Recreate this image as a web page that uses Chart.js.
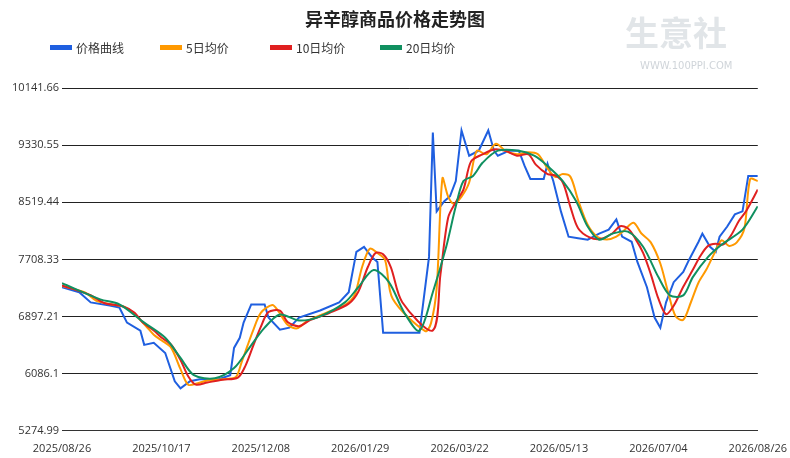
<!DOCTYPE html>
<html><head><meta charset="utf-8">
<script src="https://cdn.jsdelivr.net/npm/chart.js@4/dist/chart.umd.min.js"></script>
<style>html,body{margin:0;padding:0;background:#fff}#w{width:790px;height:458px}</style>
</head><body><div id="w"><canvas id="c"></canvas></div>
<script>
const title = "异辛醇商品价格走势图";
const seriesNames = ["价格曲线","5日均价","10日均价","20日均价"];
const seriesColors = ["#1f5fe0","#ff9900","#e02020","#109060"];
const xTickDays = [0,52,104,156,208,260,312,364];
const xTickLabels = ["2025/08/26","2025/10/17","2025/12/08","2026/01/29","2026/03/22","2026/05/13","2026/07/04","2026/08/26"];
const yTicks = [5274.99,6086.1,6897.21,7708.33,8519.44,9330.55,10141.66];
const yTickLabels = ["5274.99","6086.1","6897.21","7708.33","8519.44","9330.55","10141.66"];

const priceDays = [0,9,15,25,30,34,41,43,48,54,59,62,67,72,82,88,90,93,95,99,106,108,114,119,124,135,145,150,154,158,162,165,168,187,189,192,194,196,200,203,206,209,213,218,223,226,228,234,239,242,245,252,254,257,261,265,270,275,281,286,290,293,298,301,306,310,313,316,320,325,328,333,335,339,342,344,348,352,356,359,364];
const priceVals = [7313,7242,7098,7055,7026,6811,6696,6495,6524,6380,5978,5878,5978,6007,6007,6065,6452,6596,6811,7069,7069,6883,6711,6740,6883,6983,7098,7242,7816,7887,7744,7672,6667,6667,7098,7744,9510,8390,8534,8606,8821,9539,9180,9252,9539,9252,9180,9252,9252,9036,8850,8850,9065,8821,8390,8031,8010,7988,8074,8131,8275,8031,7959,7672,7313,6883,6739,7098,7385,7529,7701,7959,8074,7887,7816,8031,8175,8347,8390,8893,8893];

const ma5Days = [0,12,18,28,33,38,44,48,52,57,62,66,71,76,86,91,94,97,100,104,110,113,118,123,128,139,148,153,157,161,165,169,173,190,193,196,199,202,205,209,213,217,222,227,232,238,244,249,254,258,262,266,270,275,280,285,290,294,299,303,308,313,317,321,325,329,333,337,341,345,349,353,357,360,364];
const ma5Vals = [7330,7240,7120,7060,7030,6930,6760,6640,6560,6460,6150,5930,5950,5990,6010,6040,6250,6480,6700,6950,7060,6980,6780,6730,6830,6960,7060,7200,7600,7860,7800,7700,7150,6690,6800,7300,8860,8600,8500,8600,8800,9250,9200,9350,9250,9200,9230,9200,9000,8880,8920,8880,8550,8200,8030,7990,8030,8120,8230,8080,7950,7650,7250,6900,6850,7100,7380,7560,7780,7980,7900,7950,8150,8850,8820];

const ma10Days = [0,15,22,32,38,42,48,52,57,62,66,70,76,84,92,96,100,104,108,114,118,124,130,140,150,155,160,164,168,172,178,194,198,202,206,210,214,220,226,232,238,244,248,254,258,262,266,270,276,282,288,292,296,300,304,308,312,316,320,325,330,334,338,342,346,350,354,358,364];
const ma10Vals = [7340,7200,7090,7040,6950,6820,6700,6600,6500,6280,6050,5930,5960,6000,6030,6200,6480,6750,6960,6980,6820,6760,6850,6950,7080,7250,7600,7800,7780,7600,7100,6700,7500,8300,8520,8700,9100,9200,9270,9250,9180,9200,9050,8920,8900,8800,8450,8150,8020,8000,8080,8180,8150,8000,7800,7500,7150,6930,7050,7320,7560,7760,7900,7930,7920,8050,8250,8400,8700];

const ma20Days = [0,20,30,43,54,62,69,80,90,98,106,114,124,135,148,155,163,171,179,187,194,201,206,210,215,220,228,239,247,254,262,269,275,281,288,296,304,312,318,325,330,338,345,356,364];
const ma20Vals = [7371,7141,7070,6811,6596,6309,6065,6021,6165,6452,6739,6926,6840,6900,7098,7313,7557,7385,6955,6696,7242,7887,8462,8821,8893,9080,9252,9252,9180,9036,8821,8534,8175,7988,8074,8103,7887,7457,7198,7198,7457,7744,7916,8131,8462];

function pts(d,v){return d.map((x,i)=>({x:x,y:v[i]}));}
const decor = {
  id:'decor',
  beforeDraw(ch){
    const c=ch.ctx; c.save();
    c.font='bold 18px "Noto Sans CJK SC"'; c.fillStyle='#222'; c.textAlign='center'; c.textBaseline='middle';
    c.fillText(title,395,19);
    c.font='bold 34px "Noto Sans CJK SC"'; c.fillStyle='rgba(170,180,190,0.35)'; c.textAlign='left';
    c.fillText('生意社',625,33);
    c.font='10px "DejaVu Sans"'; c.fillStyle='rgba(160,170,180,0.5)';
    c.fillText('WWW.100PPI.COM',640,66);
    c.font='12px "Noto Sans CJK SC"'; c.fillStyle='#333';
    const lx=[50,160,270,380];
    seriesNames.forEach((n,i)=>{
      c.fillStyle=seriesColors[i]; c.fillRect(lx[i],45,22,5);
      c.fillStyle='#333'; c.fillText(n,lx[i]+26,48);
    });
    c.restore();
  }
};
const ds=[[priceDays,priceVals],[ma5Days,ma5Vals],[ma10Days,ma10Vals],[ma20Days,ma20Vals]].map((p,i)=>({
  label:seriesNames[i], data:pts(p[0],p[1]), borderColor:seriesColors[i], backgroundColor:seriesColors[i],
  borderWidth:2, pointRadius:0, tension:i===0?0:0.3, order:4-i
}));
new Chart(document.getElementById('c'),{
  type:'line', data:{datasets:ds},
  options:{responsive:true,maintainAspectRatio:false,animation:false,
    layout:{padding:{top:88,right:0,left:0,bottom:0}},
    plugins:{legend:{display:false},title:{display:false},tooltip:{enabled:false}},
    scales:{
      x:{type:'linear',min:0,max:364,
        afterBuildTicks(a){a.ticks=xTickDays.map(v=>({value:v}));},
        ticks:{autoSkip:false,maxRotation:0,color:'#333',font:{size:11,family:'"Open Sans"'},callback:(v)=>xTickLabels[xTickDays.indexOf(v)]},
        grid:{display:false,drawTicks:true},border:{color:'#333'}},
      y:{min:5274.99,max:10141.66,
        afterBuildTicks(a){a.ticks=yTicks.map(v=>({value:v}));},
        afterFit(a){a.width=62;},
        ticks:{color:'#333',font:{size:11,family:'"Open Sans"'},callback:(v)=>yTickLabels[yTicks.indexOf(v)]},
        grid:{color:'#222',lineWidth:1,drawTicks:false},border:{display:false}}
    }},
  plugins:[decor]
});
</script></body></html>
